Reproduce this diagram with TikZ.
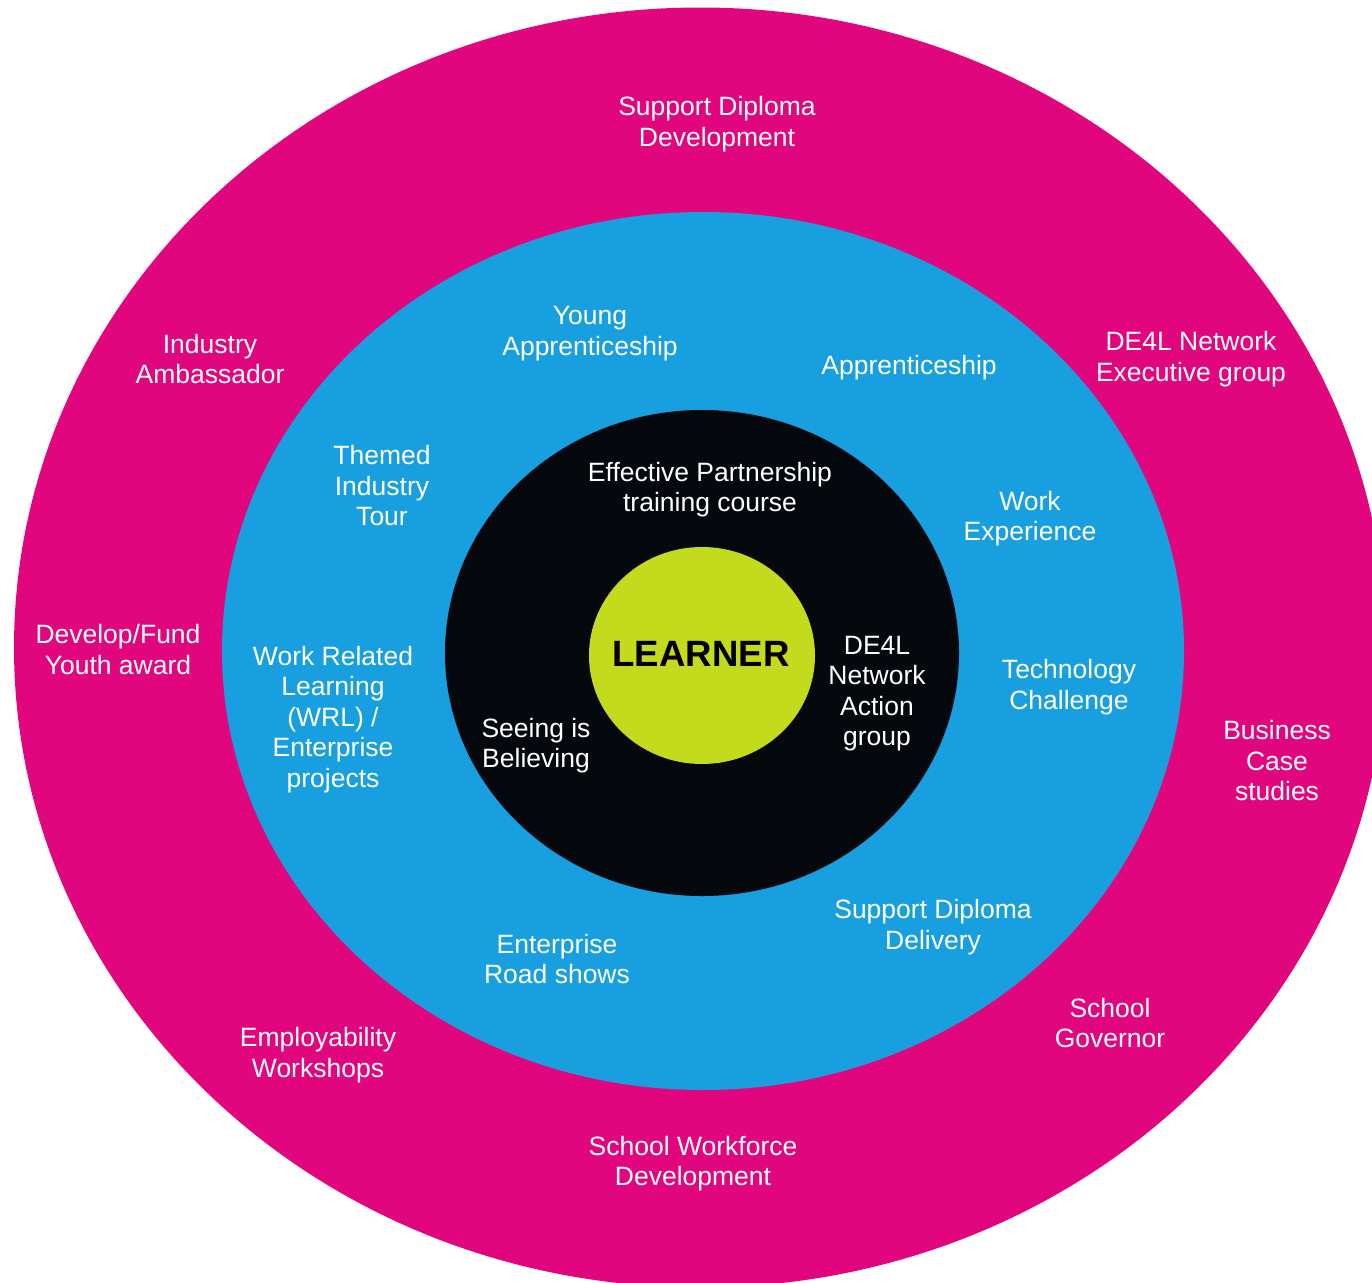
\documentclass[tikz,border=0pt]{standalone}
\usepackage{fontspec}
\setmainfont{Liberation Sans}
\definecolor{ringpink}{HTML}{E2067E}
\definecolor{ringblue}{HTML}{179FDF}
\definecolor{ringblack}{HTML}{05090E}
\definecolor{learnergreen}{HTML}{C4DA1C}
\tikzset{
  lbl/.style={text=white, align=center, inner sep=0pt, yshift=-2.5pt, font=\fontsize{26.5}{30.5}\selectfont},
  core/.style={text=black, inner sep=0pt, font=\fontsize{36.6}{40}\selectfont\bfseries}
}
\begin{document}
\begin{tikzpicture}[x=1pt,y=-1pt]
\useasboundingbox (0,0) rectangle (1372,1282);
% rings
\coordinate (co) at (700,647.5);
\coordinate (cb) at (703,651);
\coordinate (ck) at (702,653);
\coordinate (cg) at (702,655.5);
\fill[ringpink] (co) ellipse [x radius=686pt, y radius=640pt];
\fill[ringblue] (cb) ellipse [x radius=481pt, y radius=439pt];
\fill[ringblack] (ck) ellipse [x radius=257pt, y radius=243pt];
\fill[learnergreen] (cg) ellipse [x radius=113pt, y radius=108.5pt];
\node[core] (learner) at (701,654) {LEARNER};
% outer ring
\node[lbl] (diplomadev) at (717,121.5) {Support Diploma\\Development};
\node[lbl] (ambassador) at (210,356.5) {Industry\\Ambassador};
\node[lbl] (execgroup) at (1191,356.5) {DE4L Network\\Executive group};
\node[lbl] (youthaward) at (118,647) {Develop/Fund\\Youth award};
\node[lbl] (casestudies) at (1277,758.5) {Business\\Case\\studies};
\node[lbl] (governor) at (1110,1020.5) {School\\Governor};
\node[lbl] (employ) at (318,1052.5) {Employability\\Workshops};
\node[lbl] (workforce) at (693,1161) {School Workforce\\Development};
% middle ring
\node[lbl] (youngapp) at (590,331) {Young\\Apprenticeship};
\node[lbl] (apprentice) at (909,365) {Apprenticeship};
\node[lbl] (themed) at (382,483.5) {Themed\\Industry\\Tour};
\node[lbl] (workexp) at (1030,516) {Work\\Experience};
\node[lbl] (wrl) at (333,717) {Work Related\\Learning\\(WRL) /\\Enterprise\\projects};
\node[lbl] (techchal) at (1069,684.5) {Technology\\Challenge};
\node[lbl] (diplomadel) at (933,924.5) {Support Diploma\\Delivery};
\node[lbl] (roadshows) at (557,956.5) {Enterprise\\Road shows};
% inner ring
\node[lbl] (partnership) at (710,487) {Effective Partnership\\training course};
\node[lbl] (seeing) at (536,743) {Seeing is\\Believing};
\node[lbl] (actiongroup) at (877,691) {DE4L\\Network\\Action\\group};
\end{tikzpicture}
\end{document}
